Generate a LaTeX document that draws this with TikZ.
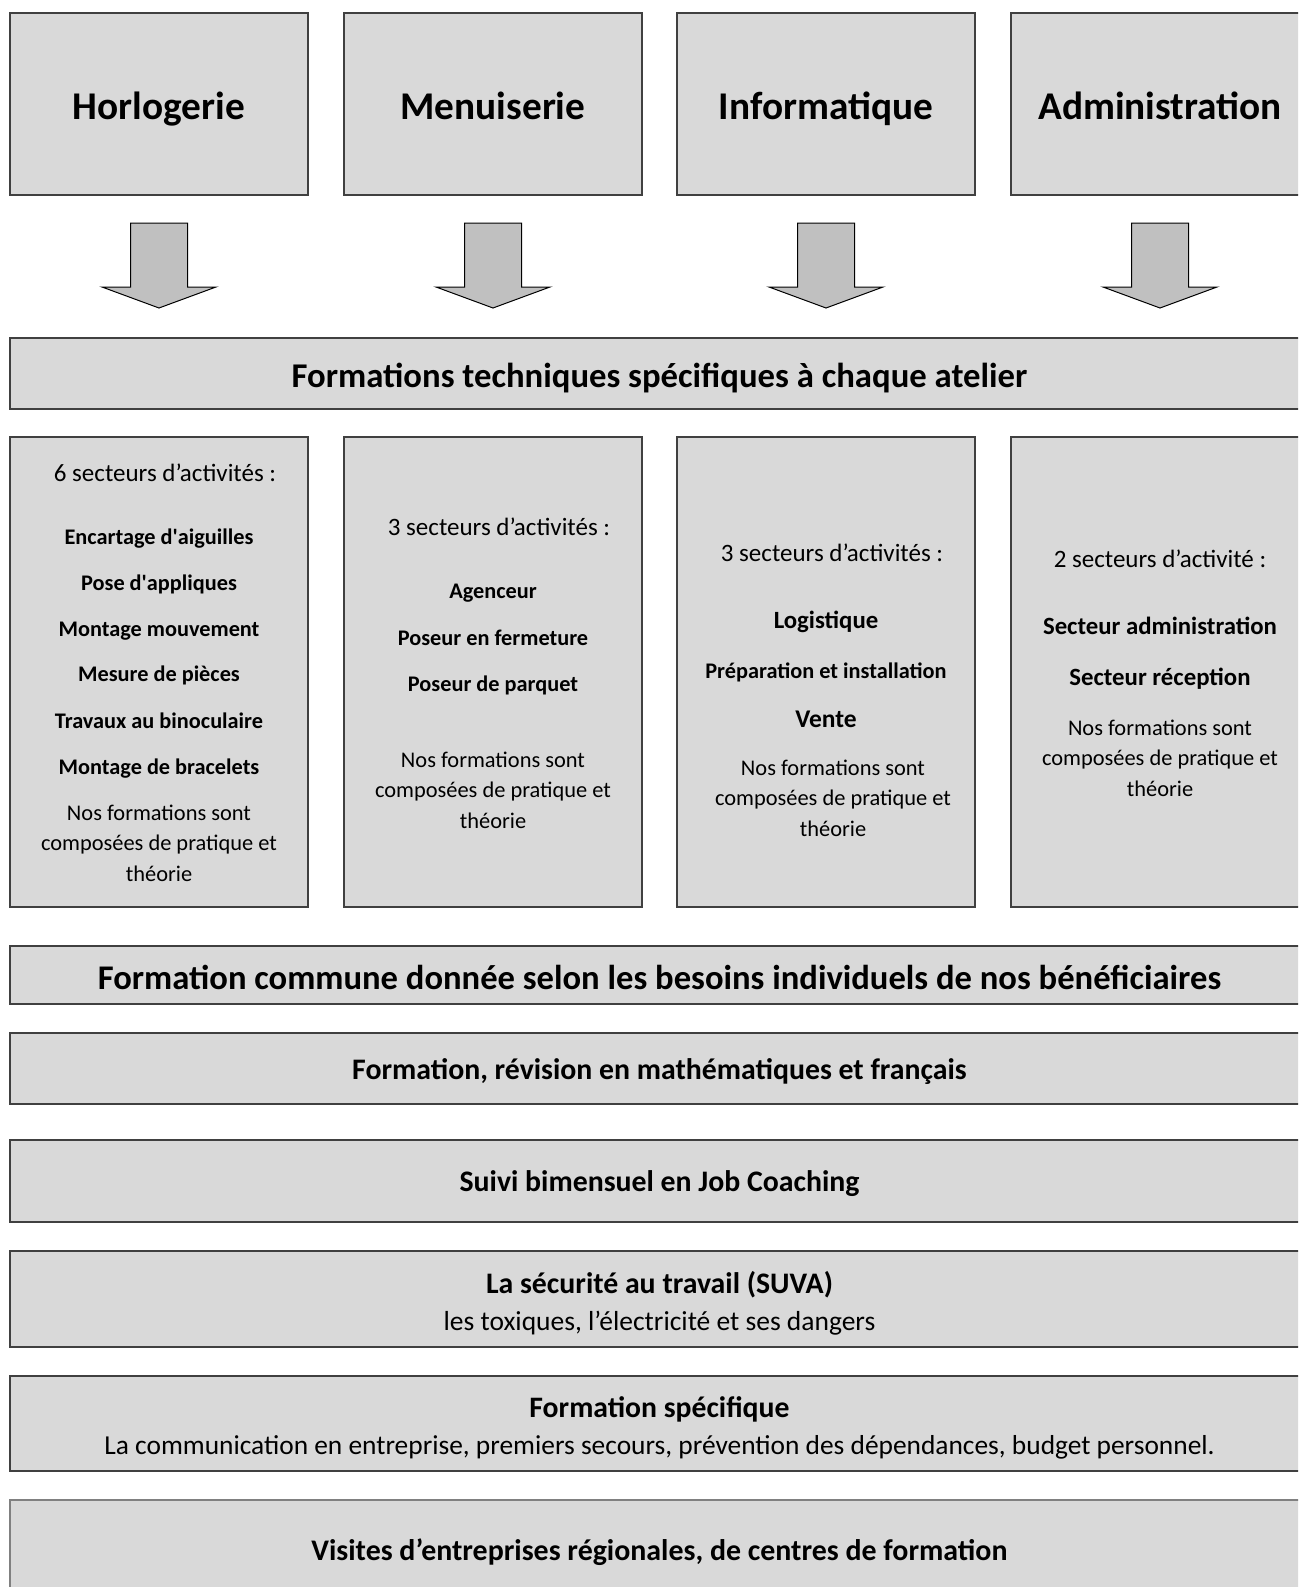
\documentclass[tikz,border=0pt]{standalone}
\usepackage{fontspec}
\setmainfont{Carlito}
\usetikzlibrary{calc}
\definecolor{boxgray}{HTML}{D9D9D9}
\definecolor{arrowgray}{HTML}{C0C0C0}
\definecolor{edgegray}{HTML}{404040}

% three centred lines of the closing remark in each sector column
\newcommand\trainingnote[3]{%
  \node[para] (#3a) at (#1,#2) {Nos formations sont};
  \node[para] (#3b) at (#1,#2+30.5) {composées de pratique et};
  \node[para] (#3c) at (#1,#2+61) {théorie};
}

\begin{document}
\begin{tikzpicture}[x=1pt,y=-1pt,
  sz/.style={font=\fontsize{#1}{#1}\selectfont, text height={0.64*#1pt}, text depth=0pt},
  bsz/.style={font=\fontsize{#1}{#1}\selectfont\bfseries, text height={0.64*#1pt}, text depth=0pt},
  panel/.style={draw=edgegray, line width=1.2pt, fill=boxgray, inner sep=0pt,
    outer sep=0pt, anchor=north west},
  topbox/.style={panel, minimum width=298pt, minimum height=182pt, bsz=39.3,
    text height=31pt},
  colbox/.style={panel, minimum width=298pt, minimum height=470pt},
  widebox/.style={panel, minimum width=1299pt},
  line/.style={inner sep=0pt},
  head/.style={line, sz=25},
  item/.style={line, bsz=22.3},
  bigitem/.style={line, bsz=24.8},
  para/.style={line, sz=22.4},
  blockarrow/.style={draw=black, line width=1pt, fill=arrowgray, line join=miter}
]
\path[use as bounding box] (0,0) rectangle (1298,1587);
\clip (0,0) rectangle (1298,1587);

% workshop headers
\node[topbox] (h) at (10,13)   {Horlogerie};
\node[topbox] (m) at (344,13)  {Menuiserie};
\node[topbox] (i) at (677,13)  {Informatique};
\node[topbox] (a) at (1011,13) {Administration};

% common technical band
\node[widebox, minimum height=71pt, bsz=34.7, text height=28pt] (ft) at (10,338)
  {Formations techniques spécifiques à chaque atelier};

% block arrows from each workshop
\foreach \n in {h,m,i,a}{
  \draw[blockarrow]
    ($(\n.south)+(-28.5,28)$) -- ($(\n.south)+(28.5,28)$) --
    ($(\n.south)+(28.5,92)$) -- ($(\n.south)+(57,92)$) --
    ($(\n.south)+(0,113)$) -- ($(\n.south)+(-57,92)$) --
    ($(\n.south)+(-28.5,92)$) -- cycle;
}

% sector columns
\node[colbox] (c1) at (10,437)   {};
\node[colbox] (c2) at (344,437)  {};
\node[colbox] (c3) at (677,437)  {};
\node[colbox] (c4) at (1011,437) {};

% Horlogerie
\node[head] (c1h) at (165,473) {6 secteurs d’activités :};
\node[item] (c1a) at (159,537) {Encartage d\textquotesingle aiguilles};
\node[item] (c1b) at (159,583) {Pose d\textquotesingle appliques};
\node[item] (c1c) at (159,629) {Montage mouvement};
\node[item] (c1d) at (159,674) {Mesure de pièces};
\node[item] (c1e) at (159,721) {Travaux au binoculaire};
\node[item] (c1f) at (159,767) {Montage de bracelets};
\trainingnote{159}{813}{c1p}

% Menuiserie
\node[head] (c2h) at (499,527) {3 secteurs d’activités :};
\node[item] (c2a) at (493,591) {Agenceur};
\node[item] (c2b) at (493,638) {Poseur en fermeture};
\node[item] (c2c) at (493,684) {Poseur de parquet};
\trainingnote{493}{760}{c2p}

% Informatique
\node[head] (c3h) at (832,553) {3 secteurs d’activités :};
\node[bigitem] (c3a) at (826,621) {Logistique};
\node[item] (c3b) at (826,671) {Préparation et installation};
\node[bigitem, bsz=25.5] (c3c) at (826,719) {Vente};
\trainingnote{833}{768}{c3p}

% Administration
\node[head] (c4h) at (1160,559) {2 secteurs d’activité :};
\node[bigitem] (c4a) at (1160,627) {Secteur administration};
\node[bigitem] (c4b) at (1160,678) {Secteur réception};
\trainingnote{1160}{728}{c4p}

% common training bands
\node[widebox, minimum height=58pt, bsz=34.6, text height=28pt] (fc) at (10,946)
  {Formation commune donnée selon les besoins individuels de nos bénéficiaires};
\node[widebox, minimum height=71pt, bsz=29.8, text height=22pt] (fr) at (10,1033)
  {Formation, révision en mathématiques et français};
\node[widebox, minimum height=82pt, bsz=29.8, text height=21pt] (js) at (10,1140)
  {Suivi bimensuel en Job Coaching};
\node[widebox, minimum height=96pt] (su) at (10,1251) {};
\node[line, bsz=29.8] (sut) at (659.5,1284) {La sécurité au travail (SUVA)};
\node[line, sz=27.5] (sud) at (659.5,1322) {les toxiques, l’électricité et ses dangers};
\node[widebox, minimum height=95pt] (fs) at (10,1376) {};
\node[line, bsz=29.7] (fst) at (659.5,1408) {Formation spécifique};
\node[line, sz=27.4] (fsd) at (659.5,1446)
  {La communication en entreprise, premiers secours, prévention des dépendances, budget personnel.};
\node[widebox, minimum height=100pt, bsz=29.9, text height=21pt, draw=gray] (vi) at (10,1500)
  {Visites d’entreprises régionales, de centres de formation};
\end{tikzpicture}
\end{document}
